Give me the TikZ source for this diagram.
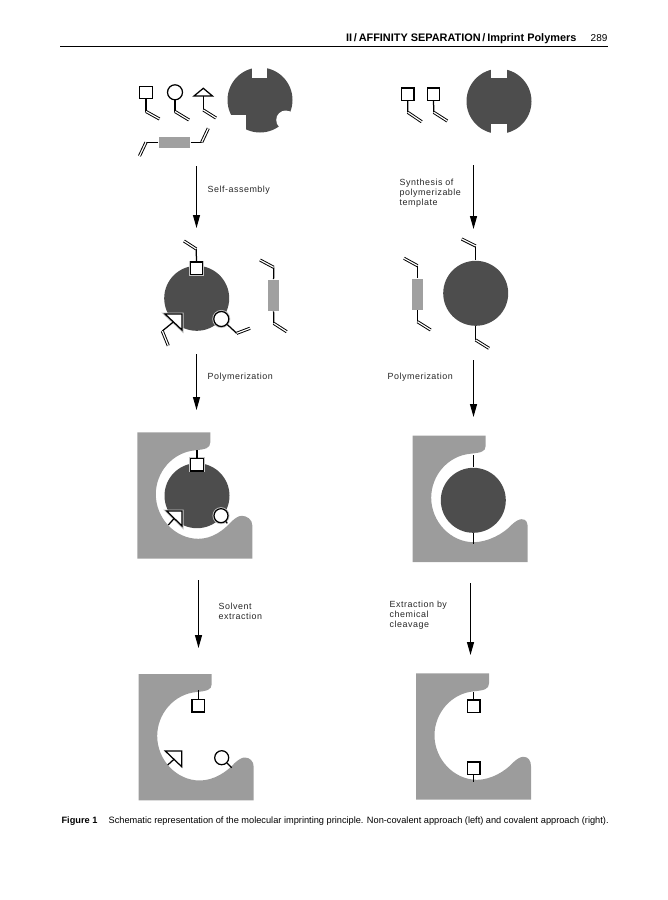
\documentclass[tikz,border=0pt]{standalone}
\usepackage{fontspec}
\setmainfont{Liberation Sans}
\newfontfamily\labelfont[LetterSpace=6]{Liberation Sans}
\usetikzlibrary{arrows.meta}
\definecolor{discgray}{HTML}{4D4D4D}
\definecolor{polygray}{HTML}{9C9C9C}
\definecolor{barhaze}{HTML}{A0A0A0}
\definecolor{halogray}{HTML}{C4C4C4}

\begin{document}
\begin{tikzpicture}[x=1pt,y=-1pt,inner sep=0pt,line width=1.25pt,
	sq/.style={rectangle,draw,fill=white,minimum size=12.5},
	circ/.style={circle,draw,fill=white,minimum size=15},
	disc/.style={circle,fill=discgray,minimum size=65},
	barv/.style={rectangle,fill=barhaze,minimum width=10.5,minimum height=31},
	barh/.style={rectangle,fill=barhaze,minimum width=31,minimum height=10.5},
	halo/.style={preaction={draw=halogray,line width=3pt}},
	tri/.style={draw,fill=white,line join=miter},
	bond/.style={double,double distance=1.2pt,line width=0.95pt},
	flow/.style={-{Triangle[length=13pt,width=7pt]},line width=1.2pt},
	lab/.style={anchor=north west,align=left,font=\labelfont\fontsize{8.9}{10}\selectfont,text=black!85}]
	
	\useasboundingbox (0,0) rectangle (668,900);
	
	% header and caption
	\node at (577,41) [anchor=base east,font=\bfseries\fontsize{10.9}{12}\selectfont] (head) {II\,/\,AFFINITY SEPARATION\,/\,Imprint Polymers};
	\node at (608,41) [anchor=base east,font=\fontsize{10}{12}\selectfont] (page) {289};
	\coordinate (r1) at (60,46.5);
	\coordinate (r2) at (608,46.5);
	\path (r1) edge (r2);
	\node at (61,823) [anchor=base west,font=\bfseries\fontsize{9.2}{10}\selectfont] (figno) {Figure 1};
	\node at (108,823) [anchor=base west,font=\fontsize{9.23}{10}\selectfont] (caption) {Schematic representation of the molecular imprinting principle. Non-covalent approach (left) and covalent approach (right).};
	
	% polymer blocks
	\foreach \x/\y/\h in {137.3/432.3/104.4, 138.7/674/106, 412.7/435.7/109, 416/673.3/107.3}{
		\begin{scope}[shift={(\x,\y)}]
			\fill[polygray] (0,0) -- (73,0) -- (73,10) .. controls (73,16) and (68,17) .. (58,18)
			.. controls (35,20) and (18.5,40) .. (18.5,62)
			.. controls (18.5,86) and (38,106.5) .. (61,106.5)
			.. controls (75,106.5) and (\h-18,98) .. (\h-10,89)
			.. controls (\h-6,85.5) and (\h-3,83.5) .. (\h,83.5)
			.. controls (\h+5,83.5) and (115,87) .. (115,93)
			-- (115,126.4) -- (0,126.4) -- cycle;
		\end{scope}
	};
	
	% discs
	\node at (260,100) [disc] (d1) {};
	\fill[white] (251.7,60) rectangle (267.3,77.7);
	\fill[white] (222,115) rectangle (246,135);
	\fill[white] (285.7,120) circle (9.5);
	\node at (499,101.3) [disc] (d2) {};
	\fill[white] (490.7,60) rectangle (506.7,78.3);
	\fill[white] (490.7,124) rectangle (506.7,140);
	\node at (196.7,298.3) [disc] (d3) {};
	\node at (475.7,293.3) [disc] (d4) {};
	\node at (197,495.7) [disc] (d5) {};
	\node at (473.3,500.3) [disc] (d6) {};
	
	% bars
	\node at (174.6,142.3) [barh] (b1) {};
	\node at (273.5,295.3) [barv] (b2) {};
	\node at (417.5,294.3) [barv] (b3) {};
	
	% stem ends and bond tips
	\foreach \n/\x/\y in {
		j1/146/111.5, t1/159.5/119, j2/175/111.5, t2/189/120, j3/203.3/110, t3/216/118,
		j4/146/142.3, t4/139.5/156, j5/201.7/142.3, t5/208.3/128.3,
		j6/407.7/112.3, t6/421.7/121.7, j7/433.7/112.3, t7/447.3/121,
		j8/196.3/249, t8/184/241, j9/162.3/331, t9/168.3/345.7, j10/236.7/333.3, t10/250/328.3,
		j11/273.7/267.3, t11/260/260, j12/273.7/323.3, t12/286.7/331.7,
		j13/417.5/265.7, t13/404/258.3, j14/417.5/321.7, t14/430.7/330,
		j15/475.7/246, t15/461.7/239, j16/475.7/340, t16/489/348.3,
		e1/197/450, e2/168.3/525, e3/227.3/523.3,
		e4/198.2/690, e5/167.7/765, e6/231.7/767.7,
		e7/473.3/455, e8/473.3/544,
		e9/473.7/691.7, e10/473.7/781.7,
		a1/196.5/166, a2/196.5/228, a3/473.5/165, a4/473.5/229,
		a5/196.5/354, a6/196.5/410, a7/473.5/360, a8/473.5/417,
		a9/198.5/580, a10/198.5/648, a11/470.5/583, a12/470.5/655,
		m1/203.3/96, m2/173.3/322, m3/174.3/518.3, m4/174.3/759
	}{
		\coordinate (\n) at (\x,\y);
	};
	
	% first row
	\node at (146,92.5) [sq] (s1) {};
	\node at (175,92.3) [circ] (c1) {};
	\draw[tri] (194,96) -- (203.3,88.3) -- (212.5,96) -- cycle;
	\node at (407.8,94.2) [sq] (s2) {};
	\node at (433.5,94.2) [sq] (s3) {};
	
	% second row
	\node at (196.5,268.3) [sq,halo] (s4) {};
	\node at (221.3,319) [circ,halo] (c2) {};
	\draw[tri,halo] (165,314) -- (182,314) -- (182,330) -- cycle;
	
	% third row
	\node at (197,464.7) [sq,halo] (s5) {};
	\node at (221,515.7) [circ,halo,minimum size=14] (c3) {};
	\draw[tri,halo] (166.7,511) -- (182,511) -- (182,526) -- cycle;
	
	% fourth row
	\node at (198.2,705.7) [sq] (s6) {};
	\node at (221.7,757.7) [circ,minimum size=14] (c4) {};
	\draw[tri] (165.3,751) -- (181.7,751) -- (181.7,766.7) -- cycle;
	\node at (473.7,706.2) [sq] (s7) {};
	\node at (473.7,768.3) [sq] (s8) {};
	
	\path
	(s1) edge (j1)
	(c1) edge (j2)
	(m1) edge (j3)
	(b1) edge (j4)
	(b1) edge (j5)
	(s2) edge (j6)
	(s3) edge (j7)
	
	(s4) edge (j8)
	(m2) edge (j9)
	(c2) edge (j10)
	(b2) edge (j11)
	(b2) edge (j12)
	(b3) edge (j13)
	(b3) edge (j14)
	(d4) edge (j15)
	(d4) edge (j16)
	
	(s5) edge (e1)
	(m3) edge (e2)
	(c3) edge (e3)
	(d6) edge (e7)
	(d6) edge (e8)
	
	(s6) edge (e4)
	(m4) edge (e5)
	(c4) edge (e6)
	(s7) edge (e9)
	(s8) edge (e10)
	;
	
	\foreach \k in {1,...,16}{
		\path (j\k) edge[bond] (t\k);
	};
	
	% arrows
	\path[flow] (a1) edge (a2);
	\path[flow] (a3) edge (a4);
	\path[flow] (a5) edge (a6);
	\path[flow] (a7) edge (a8);
	\path[flow] (a9) edge (a10);
	\path[flow] (a11) edge (a12);
	
	% labels
	\node at (207,185) [lab] (l1) {Self-assembly};
	\node at (399,178) [lab] (l2) {Synthesis of\\polymerizable\\template};
	\node at (207,372) [lab] (l3) {Polymerization};
	\node at (387,372) [lab] (l4) {Polymerization};
	\node at (218,602) [lab] (l5) {Solvent\\extraction};
	\node at (389,600) [lab] (l6) {Extraction by\\chemical\\cleavage};
	
\end{tikzpicture}
\end{document}
